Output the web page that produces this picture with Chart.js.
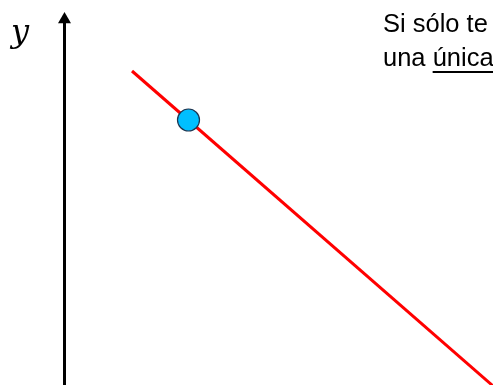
<!DOCTYPE html>
<html>
<head>
<meta charset="utf-8">
<script src="https://cdn.jsdelivr.net/npm/chart.js@4"></script>
<style>
  html, body { margin: 0; padding: 0; background: #fff; overflow: hidden; width: 493px; height: 385px; }
  #wrap { position: relative; width: 493px; height: 385px; overflow: hidden; }
  canvas { position: absolute; left: 0; top: 0; }
  .ylab { position: absolute; left: 11px; top: 15px; font-family: "DejaVu Serif", serif; font-style: italic; font-size: 32px; line-height: 1; color: #000; }
  .note { position: absolute; left: 383px; top: 6px; font-family: "Liberation Sans", Arial, sans-serif; font-size: 25.5px; line-height: 34px; color: #000; white-space: nowrap; }
  .note u { text-underline-offset: 5px; text-decoration-thickness: 2px; }
</style>
</head>
<body>
<div id="wrap">
  <canvas id="c" width="493" height="385"></canvas>
  <div class="ylab">y</div>
  <div class="note">Si sólo te<br>una <u>única</u></div>
</div>
<script>
// Values (plot units: x to the right, y upward)
const lineX = [132, 500];
const lineY = [314, -7];
const pointX = [188.5];
const pointY = [265];
const axisX = [64.5, 64.5];
const axisY = [-5, 365.5];

const toXY = (xs, ys) => xs.map((x, i) => ({ x: x, y: ys[i] }));

new Chart(document.getElementById('c'), {
  type: 'scatter',
  data: {
    datasets: [
      {
        data: toXY(pointX, pointY),
        backgroundColor: '#00BFFF',
        borderColor: '#1F3550',
        borderWidth: 1.2,
        pointRadius: 11,
        order: 0
      },
      {
        data: toXY(lineX, lineY),
        showLine: true,
        borderColor: '#FF0000',
        borderWidth: 3,
        pointRadius: 0,
        order: 1
      },
      {
        data: toXY(axisX, axisY),
        showLine: true,
        borderColor: '#000000',
        borderWidth: 3,
        pointRadius: [0, 7.5],
        pointStyle: 'triangle',
        backgroundColor: '#000000',
        pointBorderWidth: 0,
        order: 2
      }
    ]
  },
  options: {
    responsive: false,
    animation: false,
    devicePixelRatio: 1,
    layout: { padding: 0, autoPadding: false },
    plugins: { legend: { display: false }, tooltip: { enabled: false } },
    scales: {
      x: { type: 'linear', min: 0, max: 493, display: false },
      y: { type: 'linear', min: 0, max: 385, display: false }
    }
  }
});
</script>
</body>
</html>
